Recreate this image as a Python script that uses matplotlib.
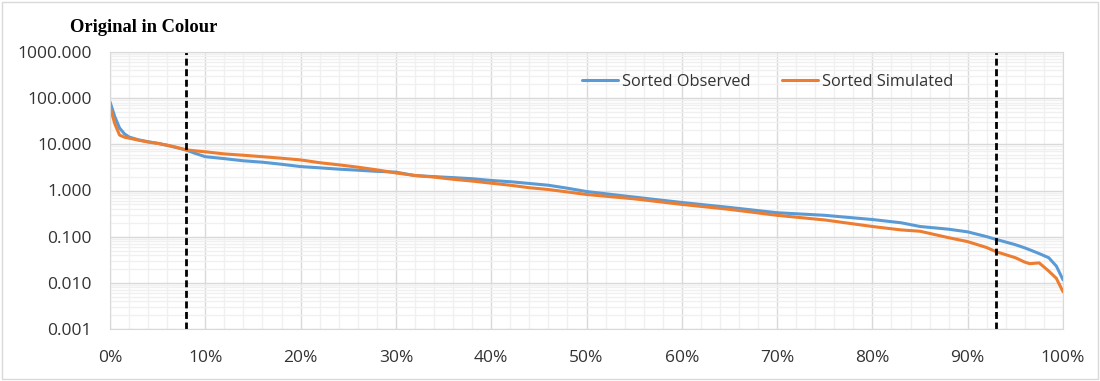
import matplotlib.pyplot as plt
from matplotlib.patches import Rectangle
from matplotlib.ticker import FuncFormatter, MultipleLocator, LogLocator, NullFormatter

# exceedance percentage and sorted flows
pct = [0, 0.5, 1, 1.5, 2, 3, 4, 5, 6, 7, 8, 9, 10, 12, 14, 16, 18, 20, 22, 24, 26, 28, 30,
       32, 34, 36, 38, 40, 42, 44, 46, 48, 50, 55, 60, 65, 70, 75, 80, 83, 85, 88, 90, 92,
       93, 95, 96, 96.5, 97.5, 98.5, 99.3, 100]
observed = [83, 40, 22.6, 17, 14.4, 12.5, 11.4, 10.5, 9.5, 8.5, 7.5, 6.3, 5.4, 4.9, 4.4, 4.1,
            3.7, 3.3, 3.1, 2.9, 2.75, 2.6, 2.5, 2.1, 2.0, 1.9, 1.8, 1.65, 1.55, 1.42, 1.3,
            1.12, 0.95, 0.72, 0.55, 0.43, 0.33, 0.29, 0.235, 0.2, 0.166, 0.145, 0.127, 0.1,
            0.087, 0.067, 0.057, 0.052, 0.043, 0.035, 0.023, 0.0116]
simulated = [65, 28, 15.9, 14.3, 13.6, 12.3, 11.2, 10.5, 9.6, 8.6, 7.6, 7.2, 6.9, 6.2, 5.8, 5.4,
             5.0, 4.6, 4.0, 3.6, 3.2, 2.8, 2.4, 2.12, 1.95, 1.75, 1.6, 1.44, 1.3, 1.15, 1.05,
             0.93, 0.82, 0.66, 0.5, 0.39, 0.29, 0.23, 0.166, 0.14, 0.131, 0.095, 0.078, 0.058,
             0.047, 0.035, 0.028, 0.026, 0.027, 0.018, 0.0125, 0.0064]
cutoffs = [8, 93]

fig = plt.figure(figsize=(11, 3.81), dpi=100)
ax = fig.add_axes([0.1, 0.1365, 0.8664, 0.727])

ax.plot(pct, observed, color='#5b9bd5', lw=2.2, label='Sorted Observed', solid_capstyle='round')
ax.plot(pct, simulated, color='#ed7d31', lw=2.2, label='Sorted Simulated', solid_capstyle='round')
for c in cutoffs:
    ax.axvline(c, color='black', lw=2, linestyle=(0, (2.5, 1.3)))

ax.set_yscale('log')
ax.set_ylim(0.001, 1000)
ax.set_xlim(0, 100)
ax.xaxis.set_major_locator(MultipleLocator(10))
ax.xaxis.set_minor_locator(MultipleLocator(2))
ax.xaxis.set_major_formatter(FuncFormatter(lambda v, p: f'{v:.0f}%'))
ax.yaxis.set_major_locator(LogLocator(base=10, numticks=10))
ax.yaxis.set_minor_locator(LogLocator(base=10, subs=range(2, 10), numticks=20))
ax.yaxis.set_minor_formatter(NullFormatter())
ax.yaxis.set_major_formatter(FuncFormatter(lambda v, p: f'{v:.3f}'))

ax.grid(which='major', color='#d9d9d9', lw=1)
ax.grid(which='minor', color='#f0f0f0', lw=1)
ax.set_axisbelow(True)
for s in ax.spines.values():
    s.set_color('#d9d9d9')
ax.tick_params(which='both', length=0, labelsize=12.5, colors='#333333')
ax.tick_params(axis='x', pad=15)
ax.tick_params(axis='y', pad=13)
for lab in ax.get_xticklabels() + ax.get_yticklabels():
    lab.set_family('Open Sans')

leg = ax.legend(loc='upper right', bbox_to_anchor=(0.90, 0.975), ncol=2, frameon=False,
                prop={'family': 'Open Sans', 'size': 11.8}, handlelength=2.2,
                columnspacing=1.9, handletextpad=0.25)
for t in leg.get_texts():
    t.set_color('#333333')

fig.text(0.064, 0.928, 'Original in Colour', family='Liberation Serif', weight='bold',
         fontsize=13.3, va='center')
fig.patches.append(Rectangle((0.002, 0.004), 0.996, 0.99, transform=fig.transFigure,
                             fill=False, edgecolor='#d9d9d9', lw=1))

fig.savefig('out.png', dpi=100)
